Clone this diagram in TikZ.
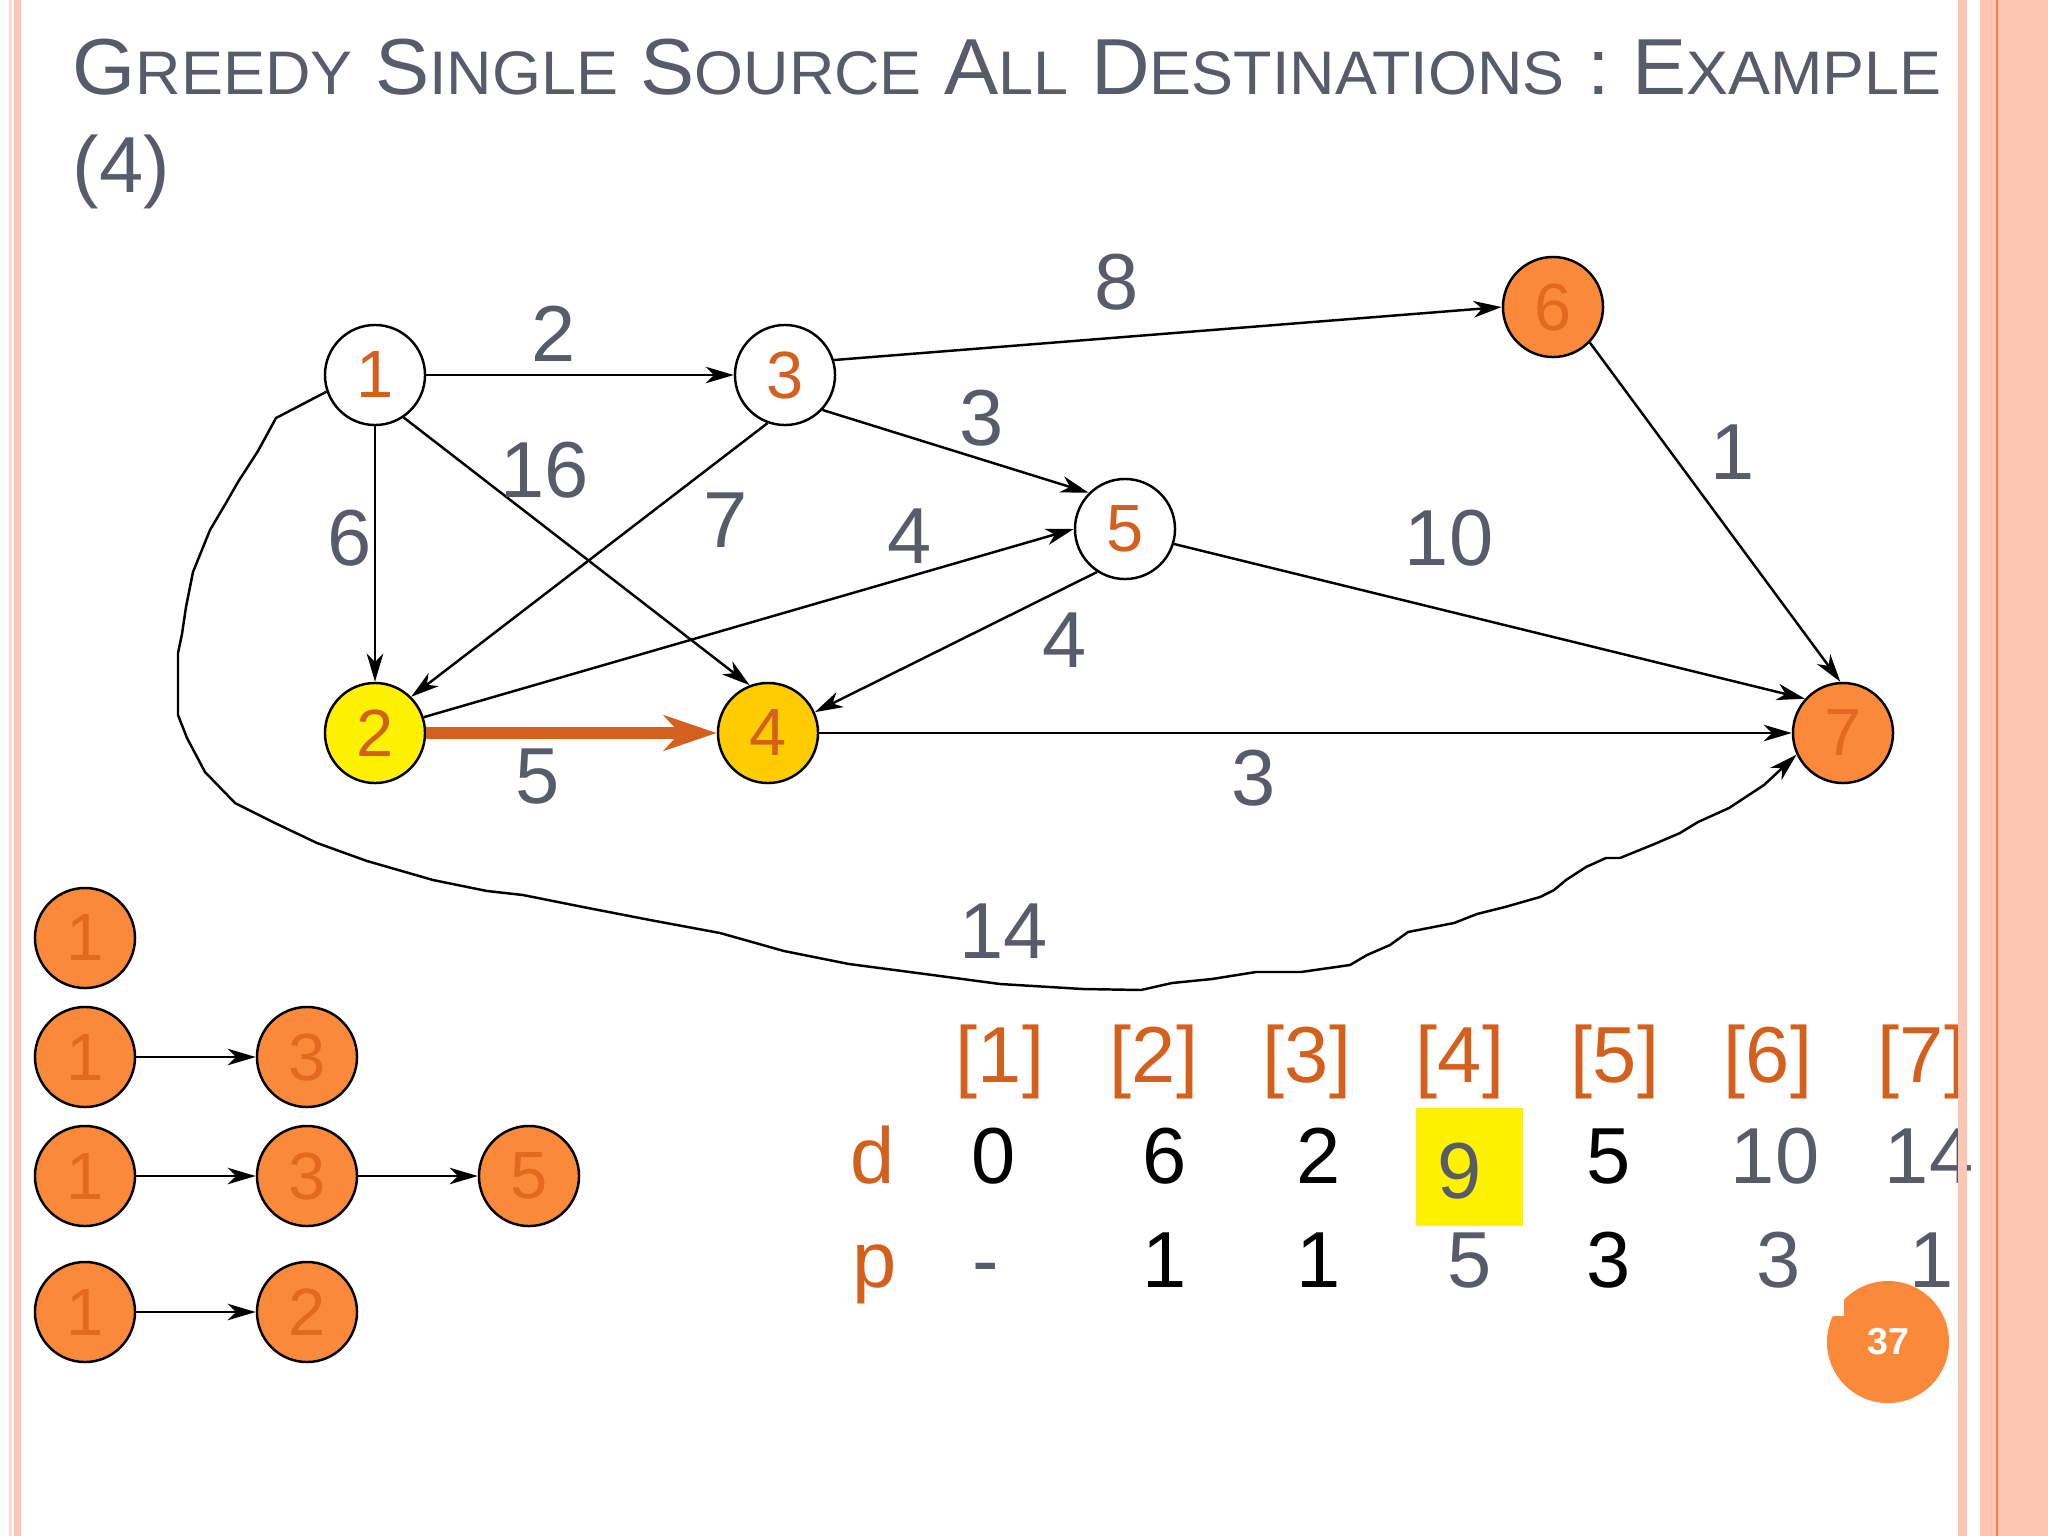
\documentclass[tikz,border=0pt]{standalone}
\usepackage{fontspec}
\setmainfont{Liberation Sans}
\usetikzlibrary{arrows.meta}

\definecolor{titlegray}{RGB}{88,92,106}
\definecolor{txtorange}{RGB}{212,96,30}
\definecolor{fillorange}{RGB}{250,138,58}
\definecolor{nodeorange}{RGB}{226,106,32}
\definecolor{gold}{RGB}{255,204,0}
\definecolor{borderpink}{RGB}{252,198,178}
\definecolor{borderline}{RGB}{240,128,70}

% small caps made by hand: first letter large, rest small
\newcommand{\scword}[2]{{\fontsize{22.6}{27}\selectfont #1}{\fontsize{17.5}{21}\selectfont #2}}

\begin{document}
\begin{tikzpicture}[x=0.01cm, y=-0.01cm,
	vtx/.style={circle, draw=black, line width=0.7pt, minimum size=1cm, inner sep=0pt, fill=white, text=txtorange, font=\fontsize{19}{22}\selectfont},
	vtxdone/.style={vtx, fill=fillorange, text=nodeorange},
	conn/.style={-{Stealth[length=8pt, width=4.7pt, inset=2.4pt]}, line width=0.7pt},
	wt/.style={text=titlegray, font=\fontsize{22.6}{27}\selectfont, inner sep=0pt},
	tbl/.style={anchor=base, inner sep=0pt, font=\fontsize{22.6}{27}\selectfont}]
	\useasboundingbox (0,0) rectangle (2048,1536);
	\fill[white] (0,0) rectangle (2048,1536);
	
	% Title
	\node[anchor=base west, inner sep=0pt, text=titlegray, font=\fontsize{22.6}{27}\selectfont] (title) at (72,94) {\scalebox{1.022}[1]{\scword{G}{REEDY} \scword{S}{INGLE} \scword{S}{OURCE} \scword{A}{LL} \scword{D}{ESTINATIONS} : \scword{E}{XAMPLE}}};
	\node[anchor=base west, inner sep=0pt, text=titlegray, font=\fontsize{22.6}{27}\selectfont] (title2) at (72,192) {(4)};
	
	% Graph vertices
	\node[vtx] (n1) at (375,375) {1};
	\node[vtx] (n3) at (785,375) {3};
	\node[vtxdone] (n6) at (1553,307) {6};
	\node[vtx] (n5) at (1125,529) {5};
	\node[vtx, fill=yellow] (n2) at (375,733) {2};
	\node[vtx, fill=gold] (n4) at (768,733) {4};
	\node[vtxdone] (n7) at (1843,733) {7};
	
	% Graph edges
	\draw[conn] (n1.east) -- (n3.west);
	\draw[conn] (n1.south) -- (n2.north);
	\draw[conn] (n1.304) -- (n4.111);
	\draw[conn] (n3.250) -- (n2.45);
	\draw[conn] (n3.317) -- (n5.135);
	\draw[conn] (n3.17) -- (n6.180);
	\draw[conn] (n2.18) -- (n5.180);
	\draw[conn] (n5.237) -- (n4.24);
	\draw[conn] (n5.343) -- (n7.138);
	\draw[conn] (n6.316) -- (n7.93);
	\draw[conn] (n4.east) -- (n7.west);
	\draw[line width=3.3pt, txtorange, -{Stealth[length=15pt, width=10pt, inset=4.5pt]}] (n2.east) -- (n4.west);
	\draw[conn, line join=round] (n1.199) -- (276,418) -- (258,451) -- (238,482) -- (226,503) -- (210,530) -- (193,572) -- (186,607) -- (182,634) -- (178,653) -- (178,715) -- (187,738) -- (205,772) -- (235,803) -- (277,824) -- (317,843) -- (367,861) -- (433,880) -- (487,891) -- (523,895) -- (583,907) -- (650,920) -- (720,933) -- (784,951) -- (849,964) -- (940,976) -- (1000,984) -- (1083,989) -- (1141,990) -- (1172,983) -- (1212,979) -- (1256,972) -- (1301,972) -- (1350,965) -- (1367,955) -- (1390,945) -- (1408,932) -- (1454,923) -- (1477,914) -- (1505,907) -- (1540,897) -- (1554,890) -- (1566,880) -- (1586,867) -- (1606,858) -- (1620,858) -- (1652,845) -- (1680,833) -- (1698,822) -- (1729,808) -- (1764,785) -- (n7.205);
	
	% Edge weights
	\node[wt] (w13) at (554,334) {2};
	\node[wt] (w36) at (1117,282) {8};
	\node[wt] (w35) at (982,418) {3};
	\node[wt] (w14) at (545,470) {16};
	\node[wt] (w12) at (350,538) {6};
	\node[wt] (w32) at (726,520) {7};
	\node[wt] (w25) at (910,536) {4};
	\node[wt] (w24) at (538,777) {5};
	\node[wt] (w54) at (1065,640) {4};
	\node[wt] (w57) at (1449,538) {10};
	\node[wt] (w67) at (1733,452) {1};
	\node[wt] (w47) at (1254,778) {3};
	\node[wt] (w17) at (1004,931) {14};
	
	% Paths found so far
	\node[vtxdone] (a1) at (85,938) {1};
	\node[vtxdone] (b1) at (85,1057) {1};
	\node[vtxdone] (b3) at (307,1057) {3};
	\node[vtxdone] (c1) at (85,1176) {1};
	\node[vtxdone] (c3) at (307,1176) {3};
	\node[vtxdone] (c5) at (529,1176) {5};
	\node[vtxdone] (e1) at (85,1312) {1};
	\node[vtxdone] (e2) at (307,1312) {2};
	\draw[conn] (b1) -- (b3);
	\draw[conn] (c1) -- (c3);
	\draw[conn] (c3) -- (c5);
	\draw[conn] (e1) -- (e2);
	
	% Table of d and p
	\fill[yellow] (1416,1108) rectangle (1523,1226);
	\node[tbl, text=txtorange] (h1) at (1000,1082) {[1]};
	\node[tbl, text=txtorange] (h2) at (1154,1082) {[2]};
	\node[tbl, text=txtorange] (h3) at (1307,1082) {[3]};
	\node[tbl, text=txtorange] (h4) at (1460,1082) {[4]};
	\node[tbl, text=txtorange] (h5) at (1615,1082) {[5]};
	\node[tbl, text=txtorange] (h6) at (1768,1082) {[6]};
	\node[tbl, text=txtorange] (h7) at (1922,1082) {[7]};
	
	\node[tbl, text=txtorange] (dl) at (873,1183) {d};
	\node[tbl] (d1) at (994,1183) {0};
	\node[tbl] (d2) at (1165,1183) {6};
	\node[tbl] (d3) at (1319,1183) {2};
	\node[tbl, text=titlegray] (d4) at (1460,1198) {9};
	\node[tbl] (d5) at (1609,1183) {5};
	\node[tbl, text=titlegray] (d6) at (1775,1183) {10};
	\node[tbl, text=titlegray] (d7) at (1929,1183) {14};
	
	\node[tbl, text=txtorange] (pl) at (875,1287) {p};
	\node[tbl, text=titlegray] (p1) at (986,1287) {-};
	\node[tbl] (p2) at (1165,1287) {1};
	\node[tbl] (p3) at (1319,1287) {1};
	\node[tbl, text=titlegray] (p4) at (1470,1287) {5};
	\node[tbl] (p5) at (1609,1287) {3};
	\node[tbl, text=titlegray] (p6) at (1779,1287) {3};
	\node[tbl, text=titlegray] (p7) at (1932,1287) {1};
	
	% Slide number
	\node[circle, fill=fillorange, minimum size=1.22cm, inner sep=0pt, text=white, font=\bfseries\fontsize{10.7}{12}\selectfont] (pg) at (1888,1342) {37};
	\fill[white] (1820,1290) rectangle (1844,1316);
	
	% Side borders
	\fill[borderpink!60] (9,0) rectangle (12,1536);
	\fill[borderpink] (14,0) rectangle (21,1536);
	\fill[borderpink] (1958,0) rectangle (1967,1536);
	\fill[borderpink] (1980,0) rectangle (2048,1536);
	\draw[borderline, line width=0.5pt] (1997,0) -- (1997,1536);
\end{tikzpicture}
\end{document}
